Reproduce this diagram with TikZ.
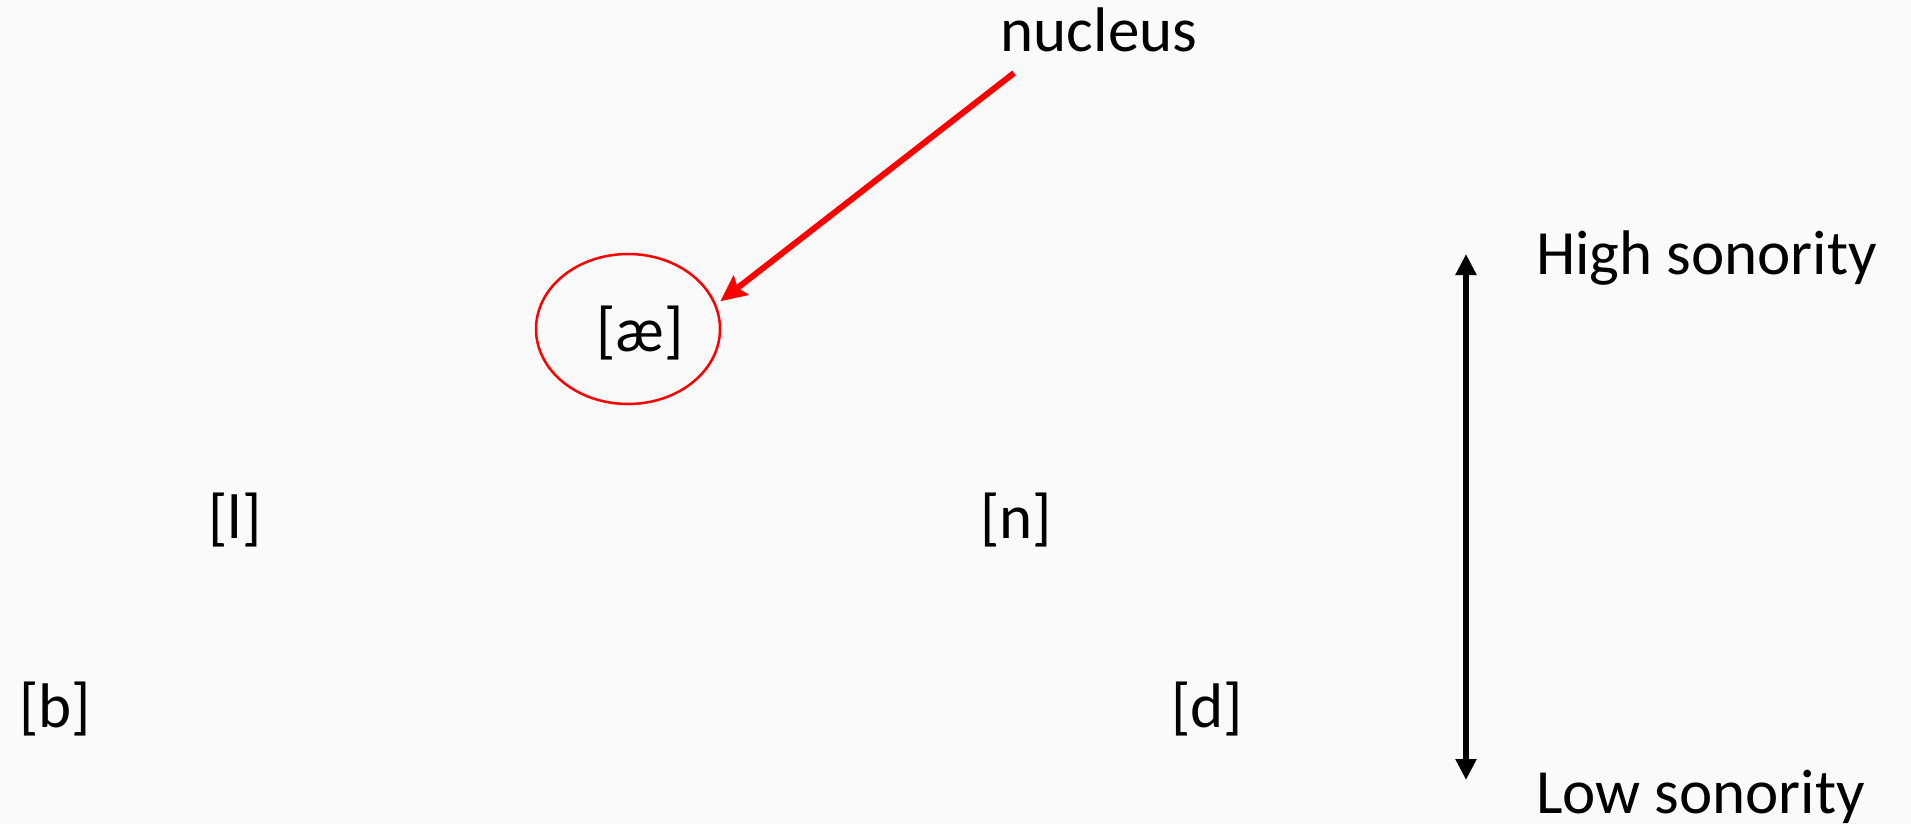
\documentclass[tikz,border=0pt]{standalone}
\usepackage{fontspec}
\setmainfont{Carlito}
\usetikzlibrary{arrows.meta,shapes.geometric}
\definecolor{bgcol}{HTML}{FAFAFA}
\definecolor{redcol}{HTML}{FF0000}
\tikzset{
  seg/.style={inner sep=0pt, outer sep=0pt, font=\fontsize{63}{76}\selectfont},
  lbl/.style={inner sep=0pt, outer sep=0pt, font=\fontsize{63}{76}\selectfont},
  redarrow/.style={draw=redcol, line width=6pt, -{Stealth[length=26pt,width=24pt,inset=4pt]}},
  sonarrow/.style={draw=black, line width=5.5pt, {Triangle[length=21pt,width=20pt]}-{Triangle[length=21pt,width=20pt]}},
  nucring/.style={draw=redcol, line width=2.5pt, ellipse, minimum width=184pt, minimum height=150pt, inner sep=0pt}
}
\begin{document}
\begin{tikzpicture}[x=1pt,y=-1pt]
\useasboundingbox (0,0) rectangle (1911,824);
\fill[bgcol] (0,0) rectangle (1911,824);
\node[nucring] (ell) at (628,329) {};
\node[seg] (ae) at (640,333) {[æ]};
\node[seg] (l) at (235,520) {[l]};
\node[seg] (n) at (1016,520) {[n]};
\node[seg] (b) at (55,709) {[b]};
\node[seg] (d) at (1207,709) {[d]};
\node[lbl, anchor=base] (nuc) at (1099,52) {nucleus};
\node[lbl, anchor=base west] (high) at (1536,274) {High sonority};
\node[lbl, anchor=base west] (low) at (1536,813) {Low sonority};
\coordinate (nstart) at (1014,73);
\coordinate (vtop) at (1466,254);
\coordinate (vbot) at (1466,780);
\draw[redarrow] (nstart) -- ([shift={(5,-1)}]ell.17);
\draw[sonarrow] (vtop) -- (vbot);
\end{tikzpicture}
\end{document}
